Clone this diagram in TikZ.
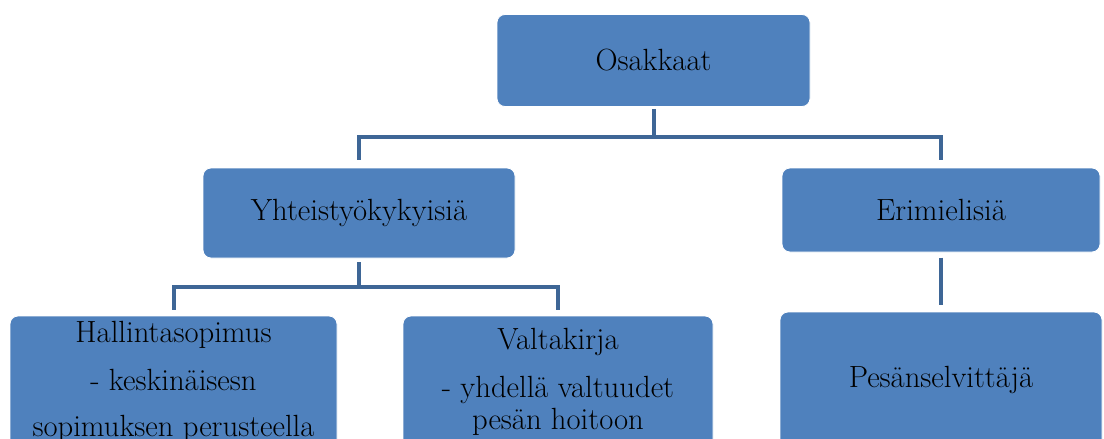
\documentclass[tikz,border=0pt]{standalone}
\usepackage{tikz}
\usetikzlibrary{positioning, calc}
\definecolor{boxblue}{RGB}{79, 129, 189}
\definecolor{linkblue}{RGB}{62, 102, 150}

\tikzset{
  orgbox/.style={draw=white, line width=0.6pt, fill=boxblue, rounded corners=6pt, align=center,
    font=\fontsize{23}{24}\selectfont, text=black},
  orglink/.style={draw=linkblue, line width=3pt}
}

\begin{document}
\begin{tikzpicture}[x=0.75pt, y=-0.75pt]
  \useasboundingbox (0,0) rectangle (1104,439);

  % Top level
  \node[orgbox, minimum width=234.75pt, minimum height=69pt] (osakkaat) at (653.5, 60.5) {Osakkaat};

  % Second level
  \node[orgbox, minimum width=234pt, minimum height=67.5pt] (yhteis) at (359, 213) {Yhteistyökykyisiä};
  \node[orgbox, minimum width=238.5pt, minimum height=63pt] (erimiel) at (941, 210) {Erimielisiä};

  % Third level
  \node[orgbox, minimum width=245.25pt, minimum height=99pt] (hallinta) at (173.5, 382) {
    Hallintasopimus\\[12pt]
    - keskinäisesn\\[10pt]
    sopimuksen perusteella
  };
  \node[orgbox, minimum width=232.5pt, minimum height=99pt] (valta) at (558, 382) {
    Valtakirja\\[12pt]
    - yhdellä valtuudet\\
    pesän hoitoon
  };
  \node[orgbox, minimum width=241.5pt, minimum height=102pt] (pesansel) at (941, 380) {Pesänselvittäjä};

  % Connectors
  \coordinate (bartop) at (653.5, 137);
  \coordinate (barmid) at (359, 287);
  \draw[orglink, shorten <=1.5pt] (osakkaat.south) -- (bartop);
  \draw[orglink, shorten >=6pt] (bartop) -| (yhteis.north);
  \draw[orglink, shorten >=6pt] (bartop) -| (erimiel.north);
  \draw[orglink, shorten <=3pt] (yhteis.south) -- (barmid);
  \draw[orglink, shorten >=4.5pt] (barmid) -| (hallinta.north);
  \draw[orglink, shorten >=4.5pt] (barmid) -| (valta.north);
  \draw[orglink, shorten <=4pt, shorten >=5pt] (erimiel.south) -- (pesansel.north);
\end{tikzpicture}
\end{document}
